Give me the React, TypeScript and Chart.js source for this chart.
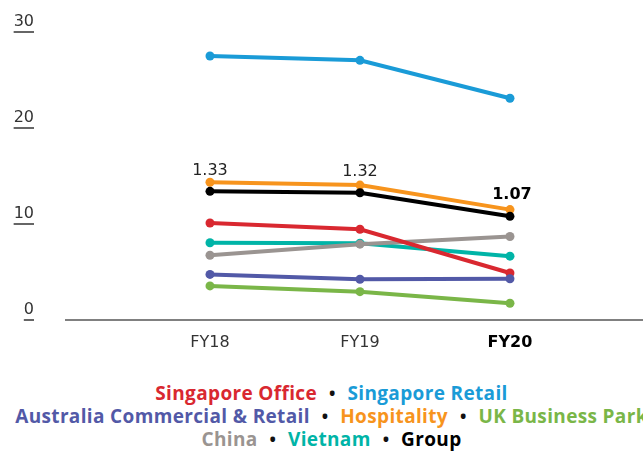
import React, { useEffect, useRef } from 'react';
import { Chart, registerables } from 'chart.js';

Chart.register(...registerables);

const categories = ['FY18', 'FY19', 'FY20'];
const singaporeOffice = [10.1, 9.45, 4.9];
const singaporeRetail = [27.5, 27.05, 23.1];
const australiaCommercialRetail = [4.75, 4.25, 4.3];
const hospitality = [14.35, 14.05, 11.5];
const ukBusinessPark = [3.55, 2.95, 1.75];
const china = [6.75, 7.9, 8.7];
const vietnam = [8.05, 8.0, 6.65];
const group = [13.4, 13.25, 10.8];
const groupLabels = ['1.33', '1.32', '1.07'];
const yTicks = [0, 10, 20, 30];

const series = [
  { name: 'Group', data: group, color: '#000000' },
  { name: 'Australia Commercial & Retail', data: australiaCommercialRetail, color: '#5259a7' },
  { name: 'Singapore Office', data: singaporeOffice, color: '#d92830' },
  { name: 'Hospitality', data: hospitality, color: '#f7941d' },
  { name: 'Singapore Retail', data: singaporeRetail, color: '#1a9bd7' },
  { name: 'UK Business Park', data: ukBusinessPark, color: '#7ab648' },
  { name: 'China', data: china, color: '#9a9491' },
  { name: 'Vietnam', data: vietnam, color: '#00b4a7' },
];

const legendLines = [
  [
    { name: 'Singapore Office', color: '#d92830' },
    { name: 'Singapore Retail', color: '#1a9bd7' },
  ],
  [
    { name: 'Australia Commercial & Retail', color: '#5259a7' },
    { name: 'Hospitality', color: '#f7941d' },
    { name: 'UK Business Park', color: '#7ab648' },
  ],
  [
    { name: 'China', color: '#9a9491' },
    { name: 'Vietnam', color: '#00b4a7' },
    { name: 'Group', color: '#000000' },
  ],
];

const TICK_FONT = 'DejaVu Sans';

const underlinePlugin = {
  id: 'tickUnderline',
  afterDraw(chart: any) {
    const y = chart.scales.y;
    const ctx = chart.ctx;
    ctx.save();
    ctx.font = `16px "${TICK_FONT}"`;
    ctx.strokeStyle = '#333333';
    ctx.lineWidth = 1.5;
    const right = y.right - 32;
    y.ticks.forEach((t: any, i: number) => {
      const label = String(t.value);
      const w = ctx.measureText(label).width;
      const py = y.getPixelForTick(i);
      ctx.beginPath();
      ctx.moveTo(right - w, py);
      ctx.lineTo(right, py);
      ctx.stroke();
    });
    ctx.restore();
  },
};

const groupLabelPlugin = {
  id: 'groupLabels',
  afterDatasetsDraw(chart: any) {
    const idx = chart.data.datasets.findIndex((d: any) => d.label === 'Group');
    const meta = chart.getDatasetMeta(idx);
    const ctx = chart.ctx;
    ctx.save();
    ctx.textAlign = 'center';
    ctx.textBaseline = 'middle';
    meta.data.forEach((pt: any, i: number) => {
      const last = i === meta.data.length - 1;
      ctx.font = `${last ? 'bold ' : ''}16px "${TICK_FONT}"`;
      ctx.fillStyle = last ? '#000000' : '#222222';
      ctx.fillText(groupLabels[i], pt.x + (last ? 2 : 0), pt.y - 21);
    });
    ctx.restore();
  },
};

export default function App() {
  const ref = useRef<HTMLCanvasElement | null>(null);

  useEffect(() => {
    document.body.style.margin = '0';
    const canvas = ref.current;
    if (!canvas) return;
    const chart = new Chart(canvas, {
      type: 'line',
      data: {
        datasets: series.map((s) => ({
          label: s.name,
          data: s.data.map((v, i) => ({ x: i, y: v })),
          borderColor: s.color,
          backgroundColor: s.color,
          pointBackgroundColor: s.color,
          pointBorderColor: s.color,
          pointBorderWidth: 0,
          pointRadius: 4.5,
          borderWidth: 4,
          tension: 0,
          fill: false,
        })),
      },
      options: {
        animation: false,
        responsive: false,
        devicePixelRatio: 1,
        layout: { autoPadding: false, padding: { top: 32, right: 0, bottom: 0, left: 0 } },
        plugins: {
          legend: { display: false },
          tooltip: { enabled: false },
        },
        scales: {
          x: {
            type: 'linear',
            min: -0.96,
            max: 2.887,
            afterBuildTicks: (s: any) => {
              s.ticks = categories.map((_, i) => ({ value: i }));
            },
            afterFit: (s: any) => {
              s.height = 55;
              s.paddingLeft = 0;
              s.paddingRight = 0;
            },
            grid: { display: false, drawTicks: false },
            border: { display: true, color: '#808080', width: 2 },
            ticks: {
              padding: 13,
              autoSkip: false,
              maxRotation: 0,
              callback: (v: any) => categories[v as number] ?? '',
              color: (c: any) => (c.index === 2 ? '#000000' : '#333333'),
              font: (c: any) => ({
                family: TICK_FONT,
                size: 16,
                weight: c.index === 2 ? 'bold' : 'normal',
              }),
            },
          },
          y: {
            min: 0,
            max: 30,
            afterBuildTicks: (s: any) => {
              s.ticks = yTicks.map((v) => ({ value: v }));
            },
            afterFit: (s: any) => {
              s.width = 66;
              s.paddingTop = 0;
              s.paddingBottom = 0;
            },
            grid: { display: false, drawTicks: false },
            border: { display: false },
            ticks: {
              padding: 32,
              labelOffset: -10,
              color: '#333333',
              font: { family: TICK_FONT, size: 16 },
            },
          },
        },
      } as any,
      plugins: [underlinePlugin, groupLabelPlugin],
    });
    return () => chart.destroy();
  }, []);

  return (
    <div style={{ position: 'absolute', left: 0, top: 0, width: 643, height: 452, overflow: 'hidden', background: '#fff' }}>
      <canvas ref={ref} width={643} height={375} style={{ display: 'block', width: 643, height: 375 }} />
      <div
        style={{
          position: 'absolute',
          left: 14,
          top: 382,
          width: 635,
          textAlign: 'center',
          fontFamily: '"Open Sans", sans-serif',
          fontWeight: 700,
          fontSize: 19,
          letterSpacing: '0.35px',
          lineHeight: '23px',
        }}
      >
        {legendLines.map((line, li) => (
          <div key={li} style={{ whiteSpace: 'nowrap' }}>
            {line.map((item, ii) => (
              <React.Fragment key={item.name}>
                {ii > 0 && (
                  <span style={{ color: '#111', padding: '0 12px', fontSize: 17, letterSpacing: 0 }}>{'\u2022'}</span>
                )}
                <span style={{ color: item.color }}>{item.name}</span>
              </React.Fragment>
            ))}
          </div>
        ))}
      </div>
    </div>
  );
}
